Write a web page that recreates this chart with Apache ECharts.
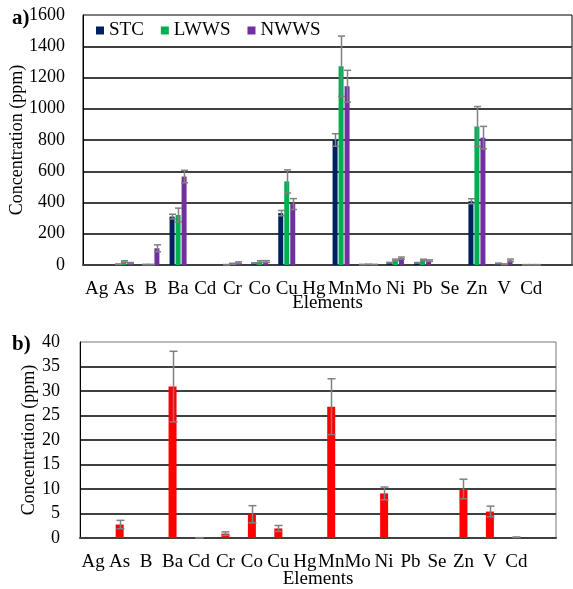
<!DOCTYPE html>
<html>
<head>
<meta charset="utf-8">
<script src="https://cdn.jsdelivr.net/npm/echarts@6/dist/echarts.min.js"></script>
<style>html,body{margin:0;padding:0;background:#fff}#c{width:573px;height:589px}</style>
</head>
<body>
<div id="c"></div>
<script>
// Categories (one trailing empty slot as in the original axis)
const categories = ['Ag','As','B','Ba','Cd','Cr','Co','Cu','Hg','Mn','Mo','Ni','Pb','Se','Zn','V','Cd',''];
const topTicks = [0,200,400,600,800,1000,1200,1400,1600];
const bottomTicks = [0,5,10,15,20,25,30,35,40];

// Panel a) values (ppm)
const stc      = [0, 5, 3, 310, 0, 2, 12, 332, 0, 800, 3, 15, 14, 0, 408, 10, 2];
const stcErr   = [0, 1, 1, 15, 0, 1, 2, 17, 0, 40, 1, 2, 2, 0, 16, 2, 0.5];
const lwws     = [0, 22, 3, 320, 0, 8, 22, 535, 0, 1272, 4, 33, 32, 0, 886, 5, 2];
const lwwsErr  = [0, 5, 1, 44, 0, 3, 6, 74, 0, 193, 1, 5, 5, 0, 128, 2, 0.5];
const nwws     = [0, 13, 107, 566, 0, 15, 22, 390, 0, 1144, 3, 44, 28, 0, 815, 30, 2];
const nwwsErr  = [0, 3, 22, 40, 0, 5, 6, 35, 0, 102, 1, 7, 5, 0, 72, 8, 0.5];

// Panel b) values (ppm)
const leach    = [0, 2.75, 0, 30.9, 0.05, 0.9, 4.85, 1.95, 0, 26.8, 0, 9.1, 0, 0, 10.0, 5.4, 0.15];
const leachErr = [0, 0.85, 0, 7.2, 0.02, 0.35, 1.75, 0.6, 0, 5.7, 0, 1.3, 0, 0, 2.0, 1.1, 0.05];

const FONT = 'Liberation Serif';
const ERR = '#808080';

function errData(vals, errs){
  const out = [];
  vals.forEach((v,i)=>{ if (v>0) out.push([i, Math.max(0, v-errs[i]), v+errs[i]]); });
  return out;
}
function errRender(offset, capHalf){
  return function(params, api){
    const x = api.value(0);
    const lo = api.coord([x, api.value(1)]);
    const hi = api.coord([x, api.value(2)]);
    const cx = Math.round(lo[0] + offset) + 0.5;
    const st = {stroke: ERR, lineWidth: 1.5};
    return {type:'group', children:[
      {type:'line', shape:{x1:cx, y1:hi[1], x2:cx, y2:lo[1]}, style:st},
      {type:'line', shape:{x1:cx-capHalf, y1:hi[1], x2:cx+capHalf, y2:hi[1]}, style:st},
      {type:'line', shape:{x1:cx-capHalf, y1:lo[1], x2:cx+capHalf, y2:lo[1]}, style:st}
    ]};
  };
}

const plain = v => String(v);
const yLabel = {fontFamily:FONT, fontSize:18, color:'#000', margin:18, formatter:plain};
const splitLine = {show:true, showMaxLine:false, lineStyle:{color:'#404040', width:2}};

const chart = echarts.init(document.getElementById('c'), null, {renderer:'canvas'});
const BW = 5, GAP = 1;
chart.setOption({
  animation:false,
  backgroundColor:'#fff',
  title:[
    {text:'a)', left:7, top:3, textStyle:{fontFamily:FONT, fontWeight:'bold', fontSize:21, color:'#000'}},
    {text:'b)', left:7, top:329, textStyle:{fontFamily:FONT, fontWeight:'bold', fontSize:21, color:'#000'}}
  ],
  legend:{
    data:['STC','LWWS','NWWS'], left:96, top:21, padding:0, itemWidth:8, itemHeight:8, itemGap:17,
    icon:'rect', textStyle:{fontFamily:FONT, fontSize:19, color:'#000'}
  },
  grid:[
    {left:83, top:15, right:1, height:250, show:true, borderColor:'#000', borderWidth:1, outerBoundsMode:'none', containLabel:false},
    {left:80, top:342, width:476, height:196, show:true, borderColor:'#777', borderWidth:1, outerBoundsMode:'none', containLabel:false}
  ],
  xAxis:[
    {type:'category', gridIndex:0, data:categories, axisTick:{show:false},
     axisLabel:{interval:0, fontFamily:FONT, fontSize:19, color:'#000', margin:15},
     axisLine:{lineStyle:{color:'#404040', width:2}}, nameMoveOverlap:false,
     name:'Elements', nameLocation:'middle', nameGap:29, nameTextStyle:{fontFamily:FONT, fontSize:19, color:'#000'}},
    {type:'category', gridIndex:1, data:categories, axisTick:{show:false},
     axisLabel:{interval:0, fontFamily:FONT, fontSize:19, color:'#000', margin:15},
     axisLine:{lineStyle:{color:'#404040', width:2}}, nameMoveOverlap:false,
     name:'Elements', nameLocation:'middle', nameGap:32, nameTextStyle:{fontFamily:FONT, fontSize:19, color:'#000'}}
  ],
  yAxis:[
    {type:'value', gridIndex:0, min:topTicks[0], max:topTicks[topTicks.length-1], interval:200,
     axisLine:{show:true, lineStyle:{color:'#000', width:1}}, axisTick:{show:false}, axisLabel:yLabel, splitLine:splitLine,
     nameMoveOverlap:false,
     name:'Concentration (ppm)', nameLocation:'middle', nameGap:57, nameTextStyle:{fontFamily:FONT, fontSize:18, color:'#000'}},
    {type:'value', gridIndex:1, min:bottomTicks[0], max:bottomTicks[bottomTicks.length-1], interval:5,
     axisLine:{show:true, lineStyle:{color:'#000', width:1}}, axisTick:{show:false}, axisLabel:Object.assign({}, yLabel, {margin:20}), splitLine:splitLine,
     nameMoveOverlap:false,
     name:'Concentration (ppm)', nameLocation:'middle', nameGap:42, nameTextStyle:{fontFamily:FONT, fontSize:18, color:'#000'}}
  ],
  series:[
    {name:'STC', type:'bar', xAxisIndex:0, yAxisIndex:0, data:stc, barWidth:BW, barGap:'20%', itemStyle:{color:'#002060'}},
    {name:'LWWS', type:'bar', xAxisIndex:0, yAxisIndex:0, data:lwws, barWidth:BW, barGap:'20%', itemStyle:{color:'#00B050'}},
    {name:'NWWS', type:'bar', xAxisIndex:0, yAxisIndex:0, data:nwws, barWidth:BW, barGap:'20%', itemStyle:{color:'#7030A0'}},
    {type:'custom', xAxisIndex:0, yAxisIndex:0, z:5, encode:{x:0, y:[1,2]}, data:errData(stc, stcErr), renderItem:errRender(-(BW+GAP), 3.5)},
    {type:'custom', xAxisIndex:0, yAxisIndex:0, z:5, encode:{x:0, y:[1,2]}, data:errData(lwws, lwwsErr), renderItem:errRender(0, 3.5)},
    {type:'custom', xAxisIndex:0, yAxisIndex:0, z:5, encode:{x:0, y:[1,2]}, data:errData(nwws, nwwsErr), renderItem:errRender(BW+GAP, 3.5)},
    {name:'b', type:'bar', xAxisIndex:1, yAxisIndex:1, data:leach, barWidth:8, itemStyle:{color:'#FF0000'}},
    {type:'custom', xAxisIndex:1, yAxisIndex:1, z:5, encode:{x:0, y:[1,2]}, data:errData(leach, leachErr), renderItem:errRender(0, 4)}
  ]
});
</script>
</body>
</html>
